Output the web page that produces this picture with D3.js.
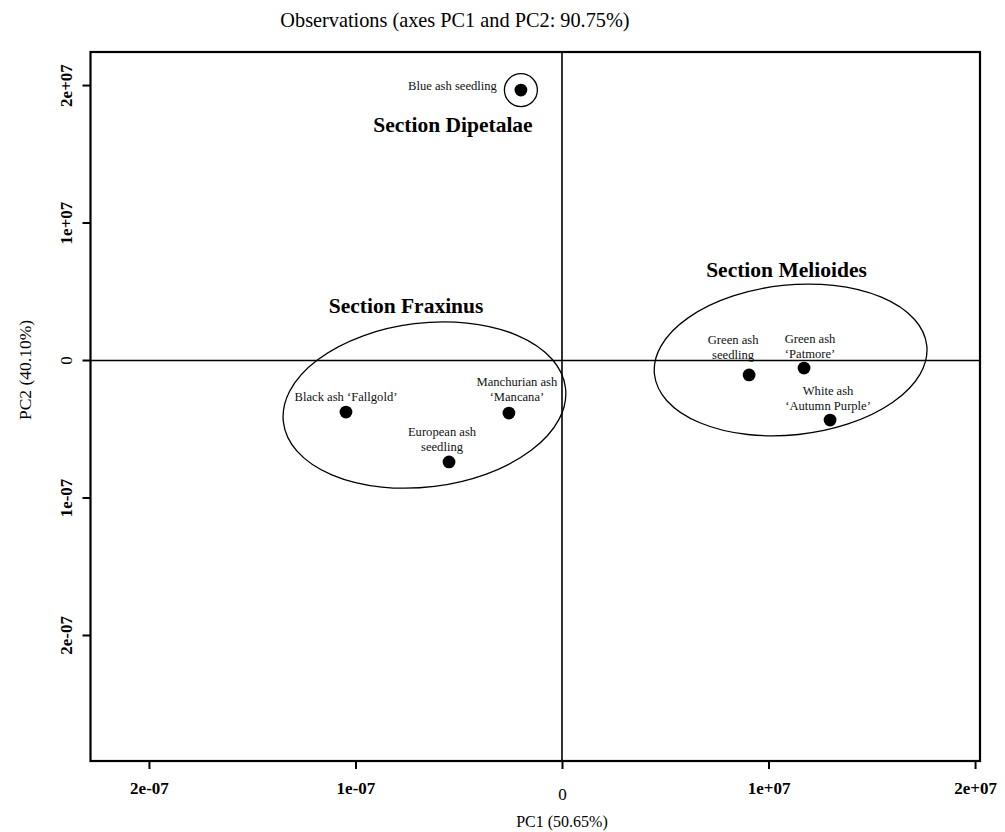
<!DOCTYPE html>
<html>
<head>
<meta charset="utf-8">
<script src="https://cdn.jsdelivr.net/npm/d3@7"></script>
<style>
  html, body { margin: 0; padding: 0; background: #fff; }
  svg { display: block; font-family: "Liberation Serif", "Times New Roman", serif; }
</style>
</head>
<body>
<svg id="chart" width="1005" height="832"></svg>
<script>
// PCA observations: PC1 / PC2 scores
const names = [
  ["Blue ash seedling"],
  ["Black ash \u2018Fallgold\u2019"],
  ["Manchurian ash", "\u2018Mancana\u2019"],
  ["European ash", "seedling"],
  ["Green ash", "seedling"],
  ["Green ash", "\u2018Patmore\u2019"],
  ["White ash", "\u2018Autumn Purple\u2019"]
];
const pc1 = [-0.199, -1.046, -0.257, -0.547, 0.906, 1.172, 1.298];
const pc2 = [1.967, -0.375, -0.382, -0.738, -0.105, -0.055, -0.433];

// Label offsets relative to each point (pixels) and anchors
const labelDx = [-24, 0, 8, -7, -16, 6, -2];
const labelDy = [0, -11, -27, -26, -31, -25, -25];
const labelAnchor = ["end", "middle", "middle", "middle", "middle", "middle", "middle"];

// Section groupings
const sectionNames = ["Section Dipetalae", "Section Fraxinus", "Section Melioides"];
const sectionX = [-0.528, -0.755, 1.087];
const sectionY = [1.66, 0.345, 0.607];
const ellCx = [-0.666, 1.107];
const ellCy = [-0.324, 0.004];
const ellRx = [0.688, 0.663];
const ellRy = [0.596, 0.545];
const ellTilt = [-7, -6];

// Axis ticks
const xTicks = [-2, -1, 0, 1, 2];
const xTickLabels = ["2e-07", "1e-07", "0", "1e+07", "2e+07"];
const yTicks = [2, 1, 0, -1, -2];
const yTickLabels = ["2e+07", "1e+07", "0", "1e-07", "2e-07"];

const svg = d3.select("#chart");
const plotL = 90.5, plotR = 980, plotT = 52, plotB = 761;

const x = d3.scaleLinear().domain([-2.283, 2.024]).range([plotL, plotR]);
const y = d3.scaleLinear().domain([-2.913, 2.244]).range([plotB, plotT]);

// Title
svg.append("text")
  .attr("x", 455).attr("y", 27)
  .attr("text-anchor", "middle")
  .attr("font-size", 20.3)
  .text("Observations (axes PC1 and PC2: 90.75%)");

// Axes
const xAxis = d3.axisBottom(x).tickValues(xTicks)
  .tickFormat((d, i) => xTickLabels[i]).tickSizeOuter(0).tickSize(8).tickPadding(13);
const gx = svg.append("g").attr("transform", `translate(0,${plotB})`).call(xAxis);
gx.select(".domain").remove();
gx.selectAll("line").attr("stroke", "#000").attr("stroke-width", 2);
gx.selectAll("text")
  .attr("font-family", "Liberation Serif").attr("font-size", 17)
  .attr("font-weight", d => d === 0 ? "normal" : "bold")
  .attr("dy", d => d === 0 ? "1.05em" : "0.71em")
  .attr("fill", "#000");

const yAxis = d3.axisLeft(y).tickValues(yTicks)
  .tickFormat((d, i) => yTickLabels[i]).tickSizeOuter(0).tickSize(8);
const gy = svg.append("g").attr("transform", `translate(${plotL},0)`).call(yAxis);
gy.select(".domain").remove();
gy.selectAll("line").attr("stroke", "#000").attr("stroke-width", 2);
gy.selectAll(".tick").attr("transform", null);
gy.selectAll(".tick line").attr("y1", d => y(d)).attr("y2", d => y(d));
gy.selectAll("text")
  .attr("font-family", "Liberation Serif").attr("font-size", 17)
  .attr("font-weight", d => d === 0 ? "normal" : "bold")
  .attr("fill", "#000")
  .attr("text-anchor", "middle")
  .attr("transform", "rotate(-90)")
  .attr("x", d => -y(d))
  .attr("y", -24)
  .attr("dy", "0.32em");

// Axis titles
svg.append("text")
  .attr("x", x(0)).attr("y", 827)
  .attr("text-anchor", "middle").attr("font-size", 16)
  .text("PC1 (50.65%)");
svg.append("text")
  .attr("transform", `translate(31,370) rotate(-90)`)
  .attr("text-anchor", "middle").attr("font-size", 17.5)
  .text("PC2 (40.10%)");

// Zero lines
svg.append("line")
  .attr("x1", plotL).attr("x2", plotR).attr("y1", y(0)).attr("y2", y(0))
  .attr("stroke", "#000").attr("stroke-width", 1.6);
svg.append("line")
  .attr("x1", x(0)).attr("x2", x(0)).attr("y1", plotT).attr("y2", plotB)
  .attr("stroke", "#000").attr("stroke-width", 1.6);

// Plot frame
svg.append("rect")
  .attr("x", plotL).attr("y", plotT).attr("width", plotR - plotL).attr("height", plotB - plotT)
  .attr("fill", "none").attr("stroke", "#000").attr("stroke-width", 2.2);

// Section ellipses
ellCx.forEach((cx, i) => {
  const px = x(cx), py = y(ellCy[i]);
  const rx = x(cx + ellRx[i]) - px;
  const ry = py - y(ellCy[i] + ellRy[i]);
  svg.append("ellipse")
    .attr("transform", `translate(${px},${py}) rotate(${ellTilt[i]})`)
    .attr("rx", rx).attr("ry", ry)
    .attr("fill", "none").attr("stroke", "#000").attr("stroke-width", 1.3);
});

// Circle around the single Dipetalae observation
svg.append("circle")
  .attr("cx", x(pc1[0])).attr("cy", y(pc2[0])).attr("r", 16.5)
  .attr("fill", "none").attr("stroke", "#000").attr("stroke-width", 1.3);

// Points
svg.append("g").selectAll("circle").data(pc1).join("circle")
  .attr("cx", d => x(d)).attr("cy", (d, i) => y(pc2[i])).attr("r", 6.4)
  .attr("fill", "#000");

// Point labels
names.forEach((lines, i) => {
  const t = svg.append("text")
    .attr("x", x(pc1[i]) + labelDx[i])
    .attr("y", y(pc2[i]) + labelDy[i])
    .attr("text-anchor", labelAnchor[i])
    .attr("font-size", 12.6)
    .attr("fill", "#111");
  lines.forEach((ln, j) => {
    t.append("tspan").attr("x", x(pc1[i]) + labelDx[i]).attr("dy", j === 0 ? 0 : 15).text(ln);
  });
});

// Section titles
svg.append("g").selectAll("text").data(sectionNames).join("text")
  .attr("x", (d, i) => x(sectionX[i])).attr("y", (d, i) => y(sectionY[i]))
  .attr("text-anchor", "middle")
  .attr("font-size", 21.5).attr("font-weight", "bold")
  .text(d => d);
</script>
</body>
</html>
